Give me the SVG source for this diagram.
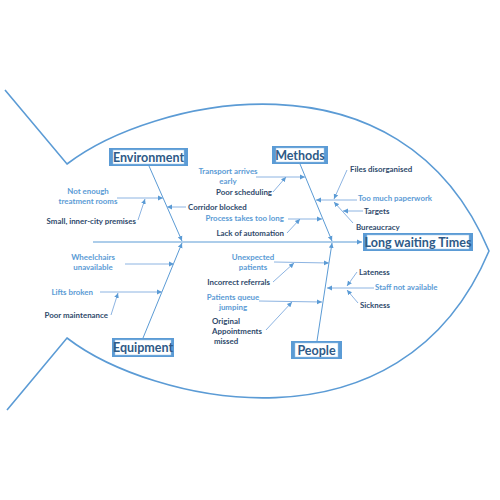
<svg xmlns="http://www.w3.org/2000/svg" width="500" height="500" viewBox="0 0 500 500">
<defs>
<style>
.fish{fill:none;stroke:#5b9bd5;stroke-width:1.6}
.bone{fill:none;stroke:#5b9bd5;stroke-width:1}
.sub{fill:none;stroke:#8db4e2;stroke-width:1}
.box{fill:#5b9bd5}
.inner{fill:#fff;stroke:#9dc3e6;stroke-width:0.5}
.head{font-family:Lato,"Liberation Sans",sans-serif;font-weight:700;font-size:12.5px;fill:#2e5a87;text-anchor:middle}
.lt{font-family:Lato,"Liberation Sans",sans-serif;font-weight:700;font-size:7.9px;fill:#5b9bd5}
.dk{font-family:Lato,"Liberation Sans",sans-serif;font-weight:700;font-size:7.9px;fill:#2f4a6b}
.c{text-anchor:middle}
.e{text-anchor:end}
</style>
<marker id="ah" markerWidth="6" markerHeight="6" refX="5" refY="3" orient="auto" markerUnits="userSpaceOnUse">
<path d="M0,0.6 L5,3 L0,5.4 Z" fill="#5b9bd5"/>
</marker>
</defs>
<rect width="500" height="500" fill="#fff"/>
<g id="fish">
<path class="fish" d="M5,90 L67,164 C150,100 400,40 489,251 C400,462 150,402 67,338 L7,410"/>
</g>
<g id="connectors">
<line class="bone" x1="93" y1="242" x2="362" y2="242" marker-end="url(#ah)"/>
<line class="bone" x1="149" y1="166" x2="182" y2="241" marker-end="url(#ah)"/>
<line class="bone" x1="143" y1="338" x2="182" y2="243" marker-end="url(#ah)"/>
<line class="bone" x1="300" y1="164" x2="332" y2="241" marker-end="url(#ah)"/>
<line class="bone" x1="317" y1="341" x2="332" y2="243" marker-end="url(#ah)"/>
<line class="sub" x1="117" y1="198" x2="163" y2="198" marker-end="url(#ah)"/>
<line class="sub" x1="138" y1="220" x2="145" y2="199" marker-end="url(#ah)"/>
<line class="sub" x1="186" y1="207" x2="167" y2="207" marker-end="url(#ah)"/>
<line class="sub" x1="125" y1="264" x2="174" y2="264" marker-end="url(#ah)"/>
<line class="sub" x1="100" y1="292" x2="162" y2="292" marker-end="url(#ah)"/>
<line class="sub" x1="111" y1="315" x2="118" y2="293" marker-end="url(#ah)"/>
<line class="sub" x1="256" y1="177" x2="305" y2="177" marker-end="url(#ah)"/>
<line class="sub" x1="273" y1="192" x2="286" y2="177" marker-end="url(#ah)"/>
<line class="sub" x1="288" y1="219" x2="322" y2="219" marker-end="url(#ah)"/>
<line class="sub" x1="287" y1="233" x2="300" y2="219" marker-end="url(#ah)"/>
<line class="sub" x1="357" y1="200" x2="316" y2="200" marker-end="url(#ah)"/>
<line class="sub" x1="347" y1="170" x2="334" y2="199" marker-end="url(#ah)"/>
<line class="sub" x1="353" y1="223" x2="334" y2="202" marker-end="url(#ah)"/>
<line class="sub" x1="363" y1="211" x2="343" y2="211" marker-end="url(#ah)"/>
<line class="sub" x1="274" y1="262" x2="329" y2="263" marker-end="url(#ah)"/>
<line class="sub" x1="273" y1="282" x2="294" y2="263" marker-end="url(#ah)"/>
<line class="sub" x1="259" y1="301" x2="322" y2="302" marker-end="url(#ah)"/>
<line class="sub" x1="266" y1="330" x2="292" y2="302" marker-end="url(#ah)"/>
<line class="sub" x1="374" y1="288" x2="327" y2="288" marker-end="url(#ah)"/>
<line class="sub" x1="357" y1="272" x2="347" y2="286" marker-end="url(#ah)"/>
<line class="sub" x1="358" y1="303" x2="347" y2="290" marker-end="url(#ah)"/>
</g>
<g id="effect">
<rect class="box" x="363" y="233" width="110" height="18"/>
<rect class="inner" x="367" y="235" width="102" height="14"/>
<text class="head" x="418" y="246.5">Long waiting Times</text>
</g>
<g id="environment">
<rect class="box" x="109" y="148" width="79" height="18"/>
<rect class="inner" x="113" y="150" width="71" height="14"/>
<text class="head" x="148.5" y="161.5">Environment</text>
</g>
<g id="methods">
<rect class="box" x="272" y="146" width="56" height="18"/>
<rect class="inner" x="276" y="148" width="48" height="14"/>
<text class="head" x="300" y="159.5">Methods</text>
</g>
<g id="equipment">
<rect class="box" x="112" y="338" width="62" height="19"/>
<rect class="inner" x="115" y="340" width="56" height="15"/>
<text class="head" x="143" y="352">Equipment</text>
</g>
<g id="people">
<rect class="box" x="291" y="341" width="51" height="18"/>
<rect class="inner" x="295" y="343" width="43" height="14"/>
<text class="head" x="316.5" y="354.5">People</text>
</g>
<g id="labels">
<text class="lt c" x="88" y="193.5">Not enough</text>
<text class="lt c" x="88" y="203.5">treatment rooms</text>
<text class="dk e" x="136" y="223.5">Small, inner-city premises</text>
<text class="dk" x="188" y="209.5">Corridor blocked</text>
<text class="lt c" x="93" y="259.5">Wheelchairs</text>
<text class="lt c" x="93" y="269.5">unavailable</text>
<text class="lt e" x="93" y="294.5">Lifts broken</text>
<text class="dk e" x="108" y="317.5">Poor maintenance</text>
<text class="lt c" x="228" y="173.5">Transport arrives</text>
<text class="lt c" x="228" y="183.5">early</text>
<text class="dk e" x="272" y="194.5">Poor scheduling</text>
<text class="lt e" x="284" y="220.5">Process takes too long</text>
<text class="dk e" x="284" y="235.5">Lack of automation</text>
<text class="dk" x="350" y="171.5">Files disorganised</text>
<text class="lt" x="358" y="200.5">Too much paperwork</text>
<text class="dk" x="364" y="214">Targets</text>
<text class="dk" x="356" y="229.5">Bureaucracy</text>
<text class="lt c" x="253" y="259.5">Unexpected</text>
<text class="lt c" x="253" y="269.5">patients</text>
<text class="dk e" x="270" y="284.5">Incorrect referrals</text>
<text class="lt c" x="233" y="299.5">Patients queue</text>
<text class="lt c" x="233" y="309.5">jumping</text>
<text class="dk" x="212" y="323.5">Original</text>
<text class="dk" x="212" y="333.5">Appointments</text>
<text class="dk" x="214" y="344">missed</text>
<text class="dk" x="359" y="274.5">Lateness</text>
<text class="lt" x="375" y="289.5">Staff not available</text>
<text class="dk" x="360" y="307.5">Sickness</text>
</g>
</svg>
